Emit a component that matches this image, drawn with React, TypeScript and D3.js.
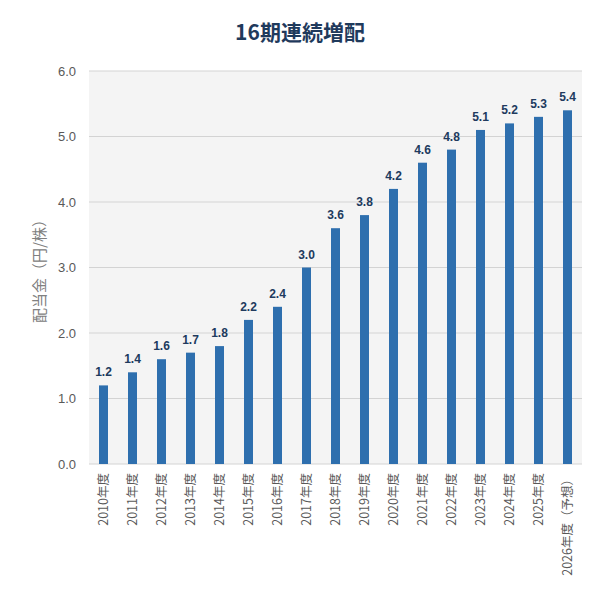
import React from "react";
import * as d3 from "d3";

const years = [
  "2010年度", "2011年度", "2012年度", "2013年度", "2014年度", "2015年度",
  "2016年度", "2017年度", "2018年度", "2019年度", "2020年度", "2021年度",
  "2022年度", "2023年度", "2024年度", "2025年度", "2026年度（予想）",
];
const dividends = [1.2, 1.4, 1.6, 1.7, 1.8, 2.2, 2.4, 3.0, 3.6, 3.8, 4.2, 4.6, 4.8, 5.1, 5.2, 5.3, 5.4];
const yTicks = [0, 1, 2, 3, 4, 5, 6];

const W = 600;
const H = 595;
const left = 89;
const right = 582;
const top = 71;
const bottom = 464;

const jp = "'Noto Sans CJK JP', 'Noto Sans', sans-serif";
const num = "'Liberation Sans', Arial, sans-serif";

export default function App() {
  const x = d3.scaleBand<string>().domain(years).range([left, right]).paddingInner(0.69).paddingOuter(0.345);
  const y = d3.scaleLinear().domain([0, 6]).range([bottom, top]);

  return (
    <svg width={W} height={H} style={{ position: "absolute", left: 0, top: 0 }}>
      <rect x={0} y={0} width={W} height={H} fill="#ffffff" />
      <text x={300} y={40} textAnchor="middle" fontFamily={jp} fontWeight={700} fontSize={21} fill="#1f3a5c">
        16期連続増配
      </text>
      <rect x={left} y={top} width={right - left} height={bottom - top} fill="#f4f4f4" />
      {yTicks.map((t) => (
        <g key={t}>
          <line x1={left} x2={right} y1={y(t)} y2={y(t)} stroke="#d3d3d3" strokeWidth={1.2} />
          <text x={76} y={y(t)} dy="0.35em" textAnchor="end" fontFamily={num} fontSize={13} fill="#595959">
            {d3.format(".1f")(t)}
          </text>
        </g>
      ))}
      <text
        transform={`translate(40, ${(top + bottom) / 2}) rotate(-90)`}
        textAnchor="middle"
        dy="0.35em"
        fontFamily={jp}
        fontSize={15}
        fill="#808080"
      >
        配当金（円/株）
      </text>
      {years.map((yr, i) => {
        const cx = x(yr)! + x.bandwidth() / 2;
        return (
          <g key={yr}>
            <rect x={x(yr)} y={y(dividends[i])} width={x.bandwidth()} height={bottom - y(dividends[i])} fill="#2e6fae" />
            <text x={cx} y={y(dividends[i]) - 9} textAnchor="middle" fontFamily={num} fontWeight={700} fontSize={12} fill="#203a5e">
              {d3.format(".1f")(dividends[i])}
            </text>
            <text
              transform={`translate(${cx}, 473) rotate(-90)`}
              textAnchor="end"
              dy="0.35em"
              fontFamily={jp}
              fontSize={12.5}
              fill="#595959"
            >
              {yr}
            </text>
          </g>
        );
      })}
    </svg>
  );
}
